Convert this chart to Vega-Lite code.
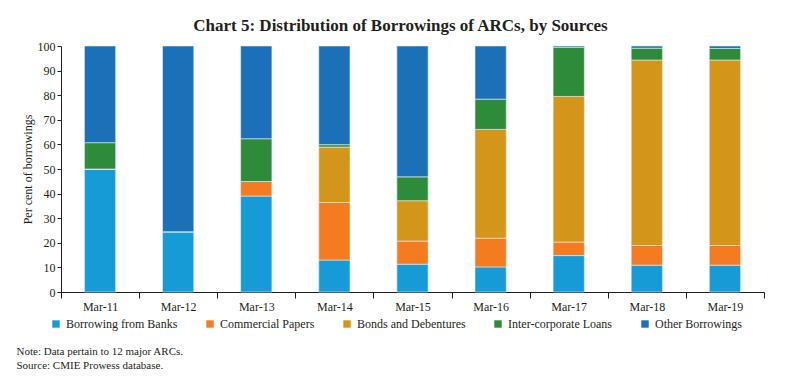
{
  "$schema": "https://vega.github.io/schema/vega-lite/v6.json",
  "width": 703,
  "height": 246,
  "padding": {"left": 16, "top": 17, "right": 20, "bottom": 5},
  "background": "white",
  "title": {
    "text": "Chart 5: Distribution of Borrowings of ARCs, by Sources",
    "font": "Liberation Serif",
    "fontSize": 17,
    "fontWeight": "bold",
    "color": "#231f20",
    "anchor": "middle",
    "offset": 5,
    "dx": -12
  },
  "data": {
    "values": [
      {"m": "Mar-11", "s": "Borrowing from Banks", "v": 50, "k": 1},
      {"m": "Mar-11", "s": "Commercial Papers", "v": 0, "k": 2},
      {"m": "Mar-11", "s": "Bonds and Debentures", "v": 0, "k": 3},
      {"m": "Mar-11", "s": "Inter-corporate Loans", "v": 10.7, "k": 4},
      {"m": "Mar-11", "s": "Other Borrowings", "v": 39.3, "k": 5},
      {"m": "Mar-12", "s": "Borrowing from Banks", "v": 24.5, "k": 1},
      {"m": "Mar-12", "s": "Commercial Papers", "v": 0, "k": 2},
      {"m": "Mar-12", "s": "Bonds and Debentures", "v": 0, "k": 3},
      {"m": "Mar-12", "s": "Inter-corporate Loans", "v": 0, "k": 4},
      {"m": "Mar-12", "s": "Other Borrowings", "v": 75.5, "k": 5},
      {"m": "Mar-13", "s": "Borrowing from Banks", "v": 39, "k": 1},
      {"m": "Mar-13", "s": "Commercial Papers", "v": 5.9, "k": 2},
      {"m": "Mar-13", "s": "Bonds and Debentures", "v": 0, "k": 3},
      {"m": "Mar-13", "s": "Inter-corporate Loans", "v": 17.4, "k": 4},
      {"m": "Mar-13", "s": "Other Borrowings", "v": 37.7, "k": 5},
      {"m": "Mar-14", "s": "Borrowing from Banks", "v": 13, "k": 1},
      {"m": "Mar-14", "s": "Commercial Papers", "v": 23.4, "k": 2},
      {"m": "Mar-14", "s": "Bonds and Debentures", "v": 22.5, "k": 3},
      {"m": "Mar-14", "s": "Inter-corporate Loans", "v": 1, "k": 4},
      {"m": "Mar-14", "s": "Other Borrowings", "v": 40.1, "k": 5},
      {"m": "Mar-15", "s": "Borrowing from Banks", "v": 11.3, "k": 1},
      {"m": "Mar-15", "s": "Commercial Papers", "v": 9.4, "k": 2},
      {"m": "Mar-15", "s": "Bonds and Debentures", "v": 16.4, "k": 3},
      {"m": "Mar-15", "s": "Inter-corporate Loans", "v": 9.7, "k": 4},
      {"m": "Mar-15", "s": "Other Borrowings", "v": 53.2, "k": 5},
      {"m": "Mar-16", "s": "Borrowing from Banks", "v": 10.2, "k": 1},
      {"m": "Mar-16", "s": "Commercial Papers", "v": 11.7, "k": 2},
      {"m": "Mar-16", "s": "Bonds and Debentures", "v": 44.2, "k": 3},
      {"m": "Mar-16", "s": "Inter-corporate Loans", "v": 12.3, "k": 4},
      {"m": "Mar-16", "s": "Other Borrowings", "v": 21.6, "k": 5},
      {"m": "Mar-17", "s": "Borrowing from Banks", "v": 14.8, "k": 1},
      {"m": "Mar-17", "s": "Commercial Papers", "v": 5.5, "k": 2},
      {"m": "Mar-17", "s": "Bonds and Debentures", "v": 59.2, "k": 3},
      {"m": "Mar-17", "s": "Inter-corporate Loans", "v": 20, "k": 4},
      {"m": "Mar-17", "s": "Other Borrowings", "v": 0.5, "k": 5},
      {"m": "Mar-18", "s": "Borrowing from Banks", "v": 10.9, "k": 1},
      {"m": "Mar-18", "s": "Commercial Papers", "v": 8, "k": 2},
      {"m": "Mar-18", "s": "Bonds and Debentures", "v": 75.4, "k": 3},
      {"m": "Mar-18", "s": "Inter-corporate Loans", "v": 4.8, "k": 4},
      {"m": "Mar-18", "s": "Other Borrowings", "v": 0.9, "k": 5},
      {"m": "Mar-19", "s": "Borrowing from Banks", "v": 10.9, "k": 1},
      {"m": "Mar-19", "s": "Commercial Papers", "v": 8, "k": 2},
      {"m": "Mar-19", "s": "Bonds and Debentures", "v": 75.4, "k": 3},
      {"m": "Mar-19", "s": "Inter-corporate Loans", "v": 4.7, "k": 4},
      {"m": "Mar-19", "s": "Other Borrowings", "v": 1, "k": 5}
    ]
  },
  "mark": {"type": "bar", "width": {"band": 0.4}, "stroke": "#e8eef8", "strokeWidth": 0.6},
  "encoding": {
    "x": {
      "field": "m",
      "type": "nominal",
      "sort": null,
      "scale": {"paddingInner": 0, "paddingOuter": 0},
      "axis": {
        "title": ["Note: Data pertain to 12 major ARCs.", "Source: CMIE Prowess database."],
        "titleFont": "Liberation Serif",
        "titleFontSize": 11,
        "titleFontWeight": "normal",
        "titleColor": "#231f20",
        "titleAnchor": "start",
        "titleAlign": "left",
        "titleBaseline": "alphabetic",
        "titleX": -45,
        "titleY": 62,
        "titleLineHeight": 14,
        "labelAngle": 0,
        "labelFont": "Liberation Serif",
        "labelFontSize": 12,
        "labelColor": "#231f20",
        "labelPadding": 3,
        "tickBand": "extent",
        "tickColor": "#231f20",
        "tickSize": 6,
        "domainColor": "#231f20"
      }
    },
    "y": {
      "field": "v",
      "type": "quantitative",
      "stack": "zero",
      "scale": {"domain": [0, 100], "nice": false},
      "axis": {
        "title": "Per cent of borrowings",
        "titleFont": "Liberation Serif",
        "titleFontSize": 12,
        "titleFontWeight": "normal",
        "titleColor": "#231f20",
        "titlePadding": 3,
        "values": [0, 10, 20, 30, 40, 50, 60, 70, 80, 90, 100],
        "labelFont": "Liberation Serif",
        "labelFontSize": 12,
        "labelColor": "#231f20",
        "tickColor": "#231f20",
        "tickSize": 4,
        "domainColor": "#231f20",
        "grid": false
      }
    },
    "color": {
      "field": "s",
      "type": "nominal",
      "scale": {
        "domain": ["Borrowing from Banks", "Commercial Papers", "Bonds and Debentures", "Inter-corporate Loans", "Other Borrowings"],
        "range": ["#169bd7", "#f47b20", "#d4961a", "#2e8b3a", "#1b70b8"]
      },
      "legend": {
        "title": null,
        "orient": "none",
        "legendX": -11,
        "legendY": 272,
        "direction": "horizontal",
        "symbolType": "square",
        "symbolSize": 55,
        "symbolStrokeWidth": 0,
        "labelFont": "Liberation Serif",
        "labelFontSize": 12,
        "labelColor": "#231f20",
        "columnPadding": 26
      }
    },
    "order": {"field": "k", "type": "quantitative", "sort": "ascending"}
  },
  "config": {"view": {"stroke": null}}
}
